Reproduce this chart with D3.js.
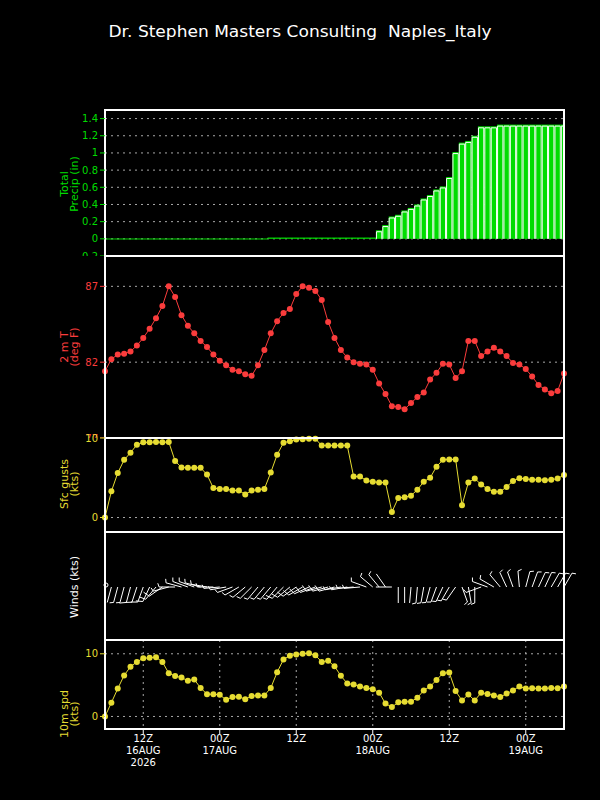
<!DOCTYPE html>
<html>
<head>
<meta charset="utf-8">
<script src="https://cdn.jsdelivr.net/npm/d3@7"></script>
<style>
  html, body { margin: 0; padding: 0; background: #000; }
  svg { display: block; }
</style>
</head>
<body>
<svg id="chart" width="600" height="800"></svg>
<script>
// ---------------- data (hourly, 06Z 16AUG 2026 -> 06Z 19AUG 2026) ----------------
const startTime = Date.UTC(2026, 7, 16, 6);
const titleText = "Dr. Stephen Masters Consulting  Naples_Italy";

// cumulative precipitation (in)
const precip = [
  0.004,0.004,0.004,0.004,0.004,0.004,0.004,0.004,0.004,0.004,0.004,0.004,0.004,
  0.004,0.004,0.004,0.004,0.004,0.004,0.004,0.004,0.004,0.004,0.004,0.004,0.004,
  0.015,0.015,0.015,0.015,0.015,0.015,0.015,0.015,0.015,0.015,0.015,0.015,0.015,
  0.015,0.015,0.015,0.015,
  0.10,0.16,0.26,0.28,0.33,0.36,0.40,0.47,0.51,0.575,0.61,0.72,1.01,1.12,1.14,
  1.20,1.31,1.31,1.31,
  1.33,1.33,1.33,1.33,1.33,1.33,1.33,1.33,1.33,1.33,1.33
];

// 2 m temperature (deg F)
const temp = [
  81.4,82.2,82.5,82.55,82.7,83.1,83.6,84.2,84.9,85.7,87.0,86.3,85.1,84.4,83.9,83.4,
  83.0,82.5,82.1,81.8,81.5,81.4,81.2,81.1,81.8,82.8,83.9,84.7,85.25,85.5,86.5,87.0,
  86.9,86.7,86.1,84.65,83.6,82.8,82.3,82.0,81.9,81.85,81.5,80.6,79.9,79.1,79.05,78.9,
  79.3,79.7,80.0,80.85,81.3,81.9,81.85,80.95,81.4,83.4,83.4,82.4,82.7,82.95,82.7,
  82.4,81.95,81.85,81.55,81.05,80.5,80.2,79.95,80.1,81.25
];

// surface gusts (kts)
const gust = [
  0.0,3.3,5.6,7.25,8.15,9.15,9.45,9.45,9.5,9.45,9.5,7.1,6.3,6.25,6.25,6.25,
  5.4,3.7,3.6,3.6,3.4,3.4,2.9,3.4,3.5,3.6,5.65,7.9,9.4,9.6,9.8,9.85,
  9.9,9.9,9.05,9.05,9.05,9.05,9.05,5.15,5.15,4.65,4.5,4.4,4.4,0.7,2.45,2.55,
  2.75,3.5,4.5,5.0,6.4,7.25,7.3,7.3,1.55,4.4,4.9,4.15,3.6,3.25,3.25,3.85,
  4.6,4.95,4.85,4.75,4.75,4.7,4.75,4.9,5.35
];

// wind direction (deg, from)
const windDir = [
  0,
  195,195,195,195,198,200,205,
  220,235,255,270,285,290,290,285,280,
  270,265,260,250,240,230,225,220,220,220,220,225,230,235,240,245,250,255,255,255,260,260,265,265,
  290,310,320,325,
  270,180,180,185,185,190,195,200,205,
  210,215,160,170,180,
  250,290,300,320,335,340,355,15,20,25,25,30,30,30
];

// 10 m wind speed (kts)
const wspd = [
  0.0,2.2,4.45,6.55,7.95,8.7,9.3,9.35,9.45,8.7,6.9,6.45,6.2,5.7,5.9,4.55,
  3.55,3.55,3.45,2.65,3.1,3.15,2.75,3.25,3.35,3.35,4.55,7.05,9.1,9.7,9.9,10.0,
  10.1,9.75,8.7,8.9,8.0,6.5,5.25,5.1,4.8,4.55,4.35,3.8,2.05,1.5,2.25,2.35,
  2.35,3.0,4.15,4.8,5.8,6.9,7.0,4.05,2.55,3.5,2.55,3.8,3.6,3.35,3.1,3.65,
  4.15,4.8,4.45,4.5,4.45,4.45,4.55,4.5,4.8
];

// x-axis tick labels (every 12 h from 12Z 16AUG)
const xTickLabels = [
  ["12Z","16AUG","2026"], ["00Z","17AUG"], ["12Z"], ["00Z","18AUG"], ["12Z"], ["00Z","19AUG"]
];

// ---------------- drawing ----------------
const HOUR = 3600 * 1000;
const times = precip.map((_, i) => new Date(startTime + i * HOUR));
const tickTimes = xTickLabels.map((_, i) => new Date(startTime + (6 + 12 * i) * HOUR));

const svg = d3.select("#chart");
svg.append("rect").attr("width", 600).attr("height", 800).attr("fill", "#000");

const left = 105, right = 564;
const x = d3.scaleUtc().domain([times[0], times[times.length - 1]]).range([left, right]);

const GREEN = "#00dc00", RED = "#fa3c3c", YELLOW = "#e6dc32", GRID = "#a8a8a8";
const FONT = "'DejaVu Sans', 'Liberation Sans', sans-serif";

svg.append("text")
  .attr("x", 300).attr("y", 37)
  .attr("text-anchor", "middle")
  .attr("fill", "#fff")
  .attr("font-family", FONT)
  .attr("font-size", 16)
  .attr("textLength", 383)
  .attr("lengthAdjust", "spacingAndGlyphs")
  .style("white-space", "pre")
  .text(titleText);

function panel(top, bottom, yDomain, ticks, color, labelLines, labelCenter, fmt) {
  const g = svg.append("g");
  g.append("rect").attr("x", 0).attr("y", top).attr("width", 600).attr("height", bottom - top).attr("fill", "#000");
  const y = yDomain ? d3.scaleLinear().domain(yDomain).range([bottom, top]) : null;
  const id = "clip" + top;
  svg.append("clipPath").attr("id", id).append("rect")
    .attr("x", left).attr("y", top).attr("width", right - left).attr("height", bottom - top);
  const grid = g.append("g");
  if (y) {
    grid.selectAll("line").data(ticks).join("line")
      .attr("x1", left).attr("x2", right)
      .attr("y1", d => y(d)).attr("y2", d => y(d))
      .attr("stroke", GRID).attr("stroke-width", 1).attr("stroke-dasharray", "2,4");
  }
  const data = g.append("g");
  g.append("rect")
    .attr("x", left).attr("y", top).attr("width", right - left).attr("height", bottom - top)
    .attr("fill", "none").attr("stroke", "#fff").attr("stroke-width", 2);
  if (y) {
    const axis = g.append("g");
    axis.selectAll("line").data(ticks).join("line")
      .attr("x1", 100).attr("x2", left)
      .attr("y1", d => y(d)).attr("y2", d => y(d))
      .attr("stroke", color).attr("stroke-width", 1);
    axis.selectAll("text").data(ticks).join("text")
      .attr("x", 98).attr("y", d => y(d))
      .attr("dy", "0.35em")
      .attr("text-anchor", "end")
      .attr("fill", color)
      .attr("font-family", FONT).attr("font-size", 10)
      .text(fmt);
  }
  const lab = g.append("g");
  const n = labelLines.length;
  labelLines.forEach((t, i) => {
    const bx = n === 1 ? 78 : (i === 0 ? 67.5 : 78);
    lab.append("text")
      .attr("transform", `translate(${bx},${labelCenter}) rotate(-90)`)
      .attr("text-anchor", "middle")
      .attr("fill", color)
      .attr("font-family", FONT).attr("font-size", 11)
      .text(t);
  });
  return { g, y, data, clip: `url(#${id})` };
}

function lineWithDots(p, values, color) {
  p.data.append("path")
    .attr("d", d3.line().x((d, i) => x(times[i])).y(d => p.y(d))(values))
    .attr("fill", "none").attr("stroke", color).attr("stroke-width", 1);
  p.data.append("g").selectAll("circle").data(values).join("circle")
    .attr("cx", (d, i) => x(times[i])).attr("cy", d => p.y(d))
    .attr("r", 3).attr("fill", color);
}

// Panel 1: precipitation
const p1 = panel(110, 256, [-0.2, 1.5], [-0.2, 0, 0.2, 0.4, 0.6, 0.8, 1.0, 1.2, 1.4], GREEN,
  ["Total", "Precip (in)"], 184, d => String(+d.toFixed(1)));
{
  const bars = p1.data.append("g").attr("clip-path", p1.clip);
  const y0 = p1.y(0);
  precip.forEach((v, i) => {
    const x0 = x(new Date(+times[i] - HOUR / 2)), x1 = x(new Date(+times[i] + HOUR / 2));
    const yt = p1.y(v);
    bars.append("rect").attr("x", x0).attr("y", yt).attr("width", x1 - x0).attr("height", Math.max(1, y0 - yt))
      .attr("fill", GREEN);
    if (y0 - yt > 2) {
      bars.append("path")
        .attr("d", `M${x0 + 0.5},${y0} V${yt + 1.5} H${x1 - 0.5} V${y0}`)
        .attr("fill", "none").attr("stroke", "#fff").attr("stroke-width", 1);
    }
  });
}

// Panel 2: 2 m temperature
const p2 = panel(256, 438, [77, 89], [77, 82, 87], RED, ["2 m T", "(deg F)"], 347, d => d);
lineWithDots(p2, temp, RED);

// Panel 3: gusts
const p3 = panel(438, 532, [-1.82, 10], [0, 10], YELLOW, ["Sfc gusts", "(kts)"], 484, d => d);
lineWithDots(p3, gust, YELLOW);

// Panel 4: wind barbs
const p4 = panel(532, 640, null, [], "#fff", ["Winds (kts)"], 587, d => d);
{
  const cy = 587, L = 16;
  const gb = p4.data.append("g").attr("stroke", "#fff").attr("stroke-width", 1).attr("fill", "none");
  windDir.forEach((dir, i) => {
    const cx = x(times[i]);
    const spd = wspd[i];
    if (spd < 1) {
      gb.append("circle").attr("cx", cx + 1).attr("cy", cy - 2).attr("r", 2);
      return;
    }
    const r = dir * Math.PI / 180;
    const dx = Math.sin(r), dy = -Math.cos(r);
    const px = -dy, py = dx;
    let path = `M${cx},${cy} L${cx + dx * L},${cy + dy * L}`;
    const nn = Math.round(spd / 5);
    const full = Math.floor(nn / 2), half = nn % 2;
    const a = 20 * Math.PI / 180;
    let pos = L;
    for (let k = 0; k < full; k++) {
      const sx = cx + dx * pos, sy = cy + dy * pos, F = 7;
      path += ` M${sx},${sy} L${sx + (px * Math.cos(a) + dx * Math.sin(a)) * F},${sy + (py * Math.cos(a) + dy * Math.sin(a)) * F}`;
      pos -= 3;
    }
    if (half) {
      const sx = cx + dx * pos, sy = cy + dy * pos, F = 4;
      path += ` M${sx},${sy} L${sx + (px * Math.cos(a) + dx * Math.sin(a)) * F},${sy + (py * Math.cos(a) + dy * Math.sin(a)) * F}`;
    }
    gb.append("path").attr("d", path);
  });
}

// Panel 5: 10 m wind speed
const p5 = panel(640, 729, [-2, 12.2], [0, 10], YELLOW, ["10m spd", "(kts)"], 714, d => d);
p5.data.append("g").selectAll("line").data(tickTimes).join("line")
  .attr("x1", d => x(d)).attr("x2", d => x(d)).attr("y1", 640).attr("y2", 729)
  .attr("stroke", GRID).attr("stroke-width", 1).attr("stroke-dasharray", "2,4");
lineWithDots(p5, wspd, YELLOW);

// x axis ticks and labels
const xa = svg.append("g");
xa.selectAll("line").data(tickTimes).join("line")
  .attr("x1", d => x(d)).attr("x2", d => x(d)).attr("y1", 729).attr("y2", 734)
  .attr("stroke", "#fff").attr("stroke-width", 1);
tickTimes.forEach((t, i) => {
  xTickLabels[i].forEach((s, j) => {
    xa.append("text")
      .attr("x", x(t)).attr("y", 738 + j * 12).attr("dy", "0.35em")
      .attr("text-anchor", "middle").attr("fill", "#fff")
      .attr("font-family", FONT).attr("font-size", 10)
      .text(s);
  });
});
</script>
</body>
</html>
